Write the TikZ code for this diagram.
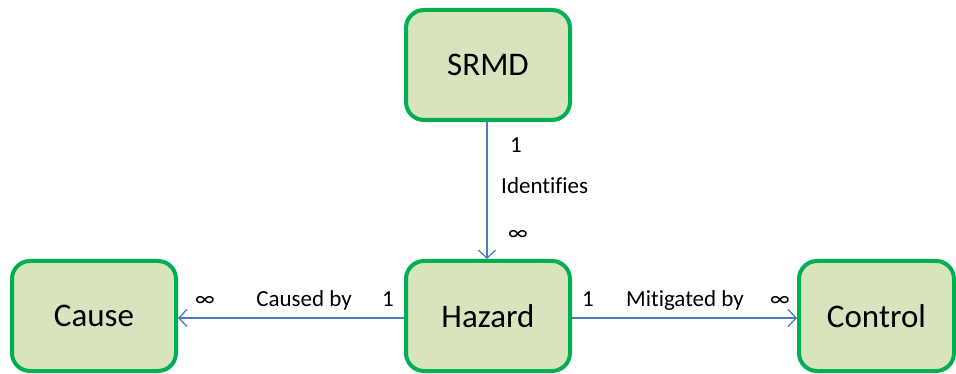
\documentclass[tikz,border=0pt]{standalone}
\usepackage{fontspec}
\setmainfont{Carlito}[Ligatures=CommonOff]
\usetikzlibrary{arrows.meta}
\definecolor{boxfill}{HTML}{D7E4BD}
\definecolor{boxline}{HTML}{00B050}
\definecolor{linkblue}{HTML}{4A7EBB}
\begin{document}
\begin{tikzpicture}[x=1pt,y=-1pt,
  entity/.style={draw=boxline,fill=boxfill,line width=4pt,rounded corners=18pt,
    minimum width=164pt,minimum height=110pt,inner sep=0pt,
    font=\fontsize{33}{36}\selectfont,text=black},
  link/.style={draw=linkblue,line width=1.3pt,-{Straight Barb[length=8pt,width=17pt,line width=1.3pt]}},
  tag/.style={font=\fontsize{23}{26}\selectfont,anchor=base,inner sep=0pt,text=black}]
\useasboundingbox (0,0) rectangle (956,374);
% entities
\node[entity] (srmd)    at (488,65)  {SRMD};
\node[entity] (hazard)  at (488,316) {Hazard};
\node[entity] (cause)   at (94,316)  {Cause};
\node[entity,minimum width=155pt] (control) at (876.5,316) {Control};
% relationships
\draw[link] (srmd.south -| 487,0) -- (hazard.north -| 487,0);
\draw[link] (hazard.west |- 0,318) -- (cause.east |- 0,318);
\draw[link] (hazard.east |- 0,318) -- (control.west |- 0,318);
% multiplicities and roles
\node[tag] (m1) at (516,153) {1};
\node[tag,anchor=base west] (r1) at (501,194) {Identifies};
\node[tag] (m2) at (518,241) {∞};
\node[tag] (m3) at (205,306) {∞};
\node[tag] (r2) at (304,306) {Caused by};
\node[tag] (m4) at (388,306) {1};
\node[tag] (m5) at (588,306) {1};
\node[tag] (r3) at (685,306) {Mitigated by};
\node[tag] (m6) at (780,306) {∞};
\end{tikzpicture}
\end{document}
